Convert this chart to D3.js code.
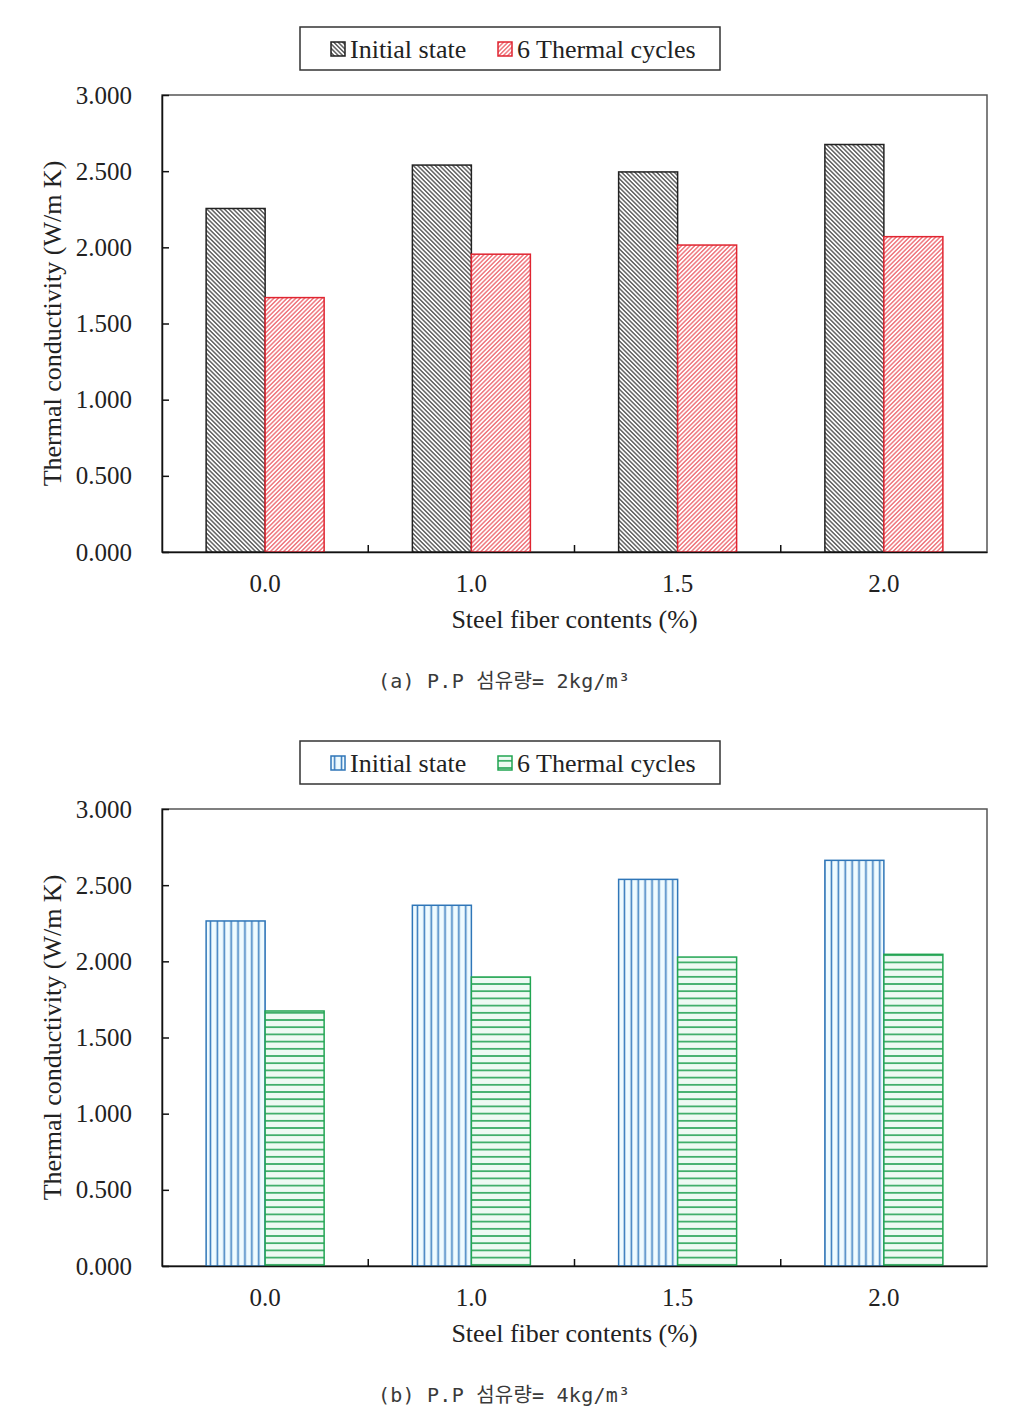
<!DOCTYPE html>
<html>
<head>
<meta charset="utf-8">
<script src="https://cdn.jsdelivr.net/npm/d3@7"></script>
<style>
  html, body { margin: 0; padding: 0; background: #fff; }
  svg { display: block; }
  .serif { font-family: "Liberation Serif", "Times New Roman", serif; fill: #222; }
  .cap { font-family: "DejaVu Sans Mono", "Noto Sans CJK KR", monospace; fill: #3a3a3a; }
</style>
</head>
<body>
<svg id="chart" width="1027" height="1425"></svg>
<script>
// ---- data ----
const categories = ["0.0", "1.0", "1.5", "2.0"];
const seriesNames = ["Initial state", "6 Thermal cycles"];
const initialA = [2.255, 2.540, 2.495, 2.675];
const thermalA = [1.670, 1.955, 2.015, 2.070];
const initialB = [2.265, 2.368, 2.538, 2.663];
const thermalB = [1.674, 1.897, 2.028, 2.046];
const yTicks = [0, 0.5, 1.0, 1.5, 2.0, 2.5, 3.0];
const captionA = "(a) P.P 섬유량= 2kg/m³";
const captionB = "(b) P.P 섬유량= 4kg/m³";
const xTitle = "Steel fiber contents (%)";
const yTitle = "Thermal conductivity (W/m K)";

const svg = d3.select("#chart");
const defs = svg.append("defs");

function linePattern(id, rot, spacing, color, width, bg, orient) {
  const p = defs.append("pattern").attr("id", id)
    .attr("patternUnits", "userSpaceOnUse")
    .attr("width", spacing).attr("height", spacing);
  if (rot) p.attr("patternTransform", `rotate(${rot})`);
  p.append("rect").attr("width", spacing).attr("height", spacing).attr("fill", bg);
  if (orient === "h") {
    p.append("line").attr("x1", 0).attr("x2", spacing).attr("y1", spacing / 2).attr("y2", spacing / 2)
      .attr("stroke", color).attr("stroke-width", width);
  } else {
    p.append("line").attr("y1", 0).attr("y2", spacing).attr("x1", spacing / 2).attr("x2", spacing / 2)
      .attr("stroke", color).attr("stroke-width", width);
  }
}
linePattern("hBlack", -45, 3.1, "#333", 1.15, "#fff", "v");
linePattern("hRed", 45, 3.1, "#e8404a", 1.05, "#fff", "v");
linePattern("hBlue", 0, 6.9, "#3d7fbf", 1.6, "#effbff", "v");
linePattern("hGreen", 0, 7.2, "#2aa65a", 1.6, "#eefaf3", "h");

const charts = [
  { off: 0, vals: [initialA, thermalA], fills: ["url(#hBlack)", "url(#hRed)"], strokes: ["#222", "#e02530"], caption: captionA },
  { off: 714, vals: [initialB, thermalB], fills: ["url(#hBlue)", "url(#hGreen)"], strokes: ["#2f76b8", "#22a552"], caption: captionB }
];

const L = 162, R = 987, T = 95, B = 552;

charts.forEach(c => {
  const g = svg.append("g").attr("transform", `translate(0,${c.off})`);
  const x = d3.scaleBand().domain(categories).range([L, R]).paddingInner(0).paddingOuter(0);
  const bw = x.bandwidth();
  const barW = 59;
  const pOuter = (bw / barW - 2) / 2;
  const xs = d3.scaleBand().domain(seriesNames).range([0, bw]).paddingInner(0).paddingOuter(pOuter);
  const y = d3.scaleLinear().domain([0, 3]).range([B, T]);

  // plot frame
  g.append("rect").attr("x", L).attr("y", T).attr("width", R - L).attr("height", B - T)
    .attr("fill", "none").attr("stroke", "#555").attr("stroke-width", 1.5);

  // bars
  seriesNames.forEach((s, si) => {
    g.append("g").selectAll("rect").data(categories).join("rect")
      .attr("x", d => x(d) + xs(s))
      .attr("y", (d, i) => y(c.vals[si][i]))
      .attr("width", xs.bandwidth())
      .attr("height", (d, i) => y(0) - y(c.vals[si][i]))
      .attr("fill", c.fills[si])
      .attr("stroke", c.strokes[si]).attr("stroke-width", 1.5);
  });

  // y axis
  const ya = g.append("g").attr("transform", `translate(${L},0)`)
    .call(d3.axisLeft(y).tickValues(yTicks).tickFormat(d3.format(".3f")).tickSizeInner(-7).tickSizeOuter(0).tickPadding(30));
  ya.select(".domain").attr("stroke", "#111").attr("stroke-width", 1.5);
  ya.selectAll(".tick line").attr("stroke", "#111").attr("stroke-width", 1.5);
  ya.selectAll(".tick text").attr("class", "serif").style("font-size", "25px").attr("fill", "#222");

  // x axis
  const xa = g.append("g").attr("transform", `translate(0,${B})`)
    .call(d3.axisBottom(x).tickSize(0).tickPadding(22));
  xa.select(".domain").attr("stroke", "#111").attr("stroke-width", 1.5);
  xa.selectAll(".tick text").attr("class", "serif").style("font-size", "25px").attr("fill", "#222");
  // boundary ticks (between categories)
  g.append("g").selectAll("line").data(categories.slice(1)).join("line")
    .attr("x1", d => x(d)).attr("x2", d => x(d))
    .attr("y1", B).attr("y2", B - 7)
    .attr("stroke", "#111").attr("stroke-width", 1.5);

  // titles
  g.append("text").attr("class", "serif").attr("x", (L + R) / 2).attr("y", 628)
    .attr("text-anchor", "middle").style("font-size", "26px").text(xTitle);
  g.append("text").attr("class", "serif")
    .attr("transform", `translate(61,${(T + B) / 2}) rotate(-90)`)
    .attr("text-anchor", "middle").style("font-size", "26px").text(yTitle);

  // legend
  const lg = g.append("g");
  lg.append("rect").attr("x", 300).attr("y", 27).attr("width", 420).attr("height", 43)
    .attr("fill", "#fff").attr("stroke", "#333").attr("stroke-width", 1.5);
  const items = [{ ix: 331, tx: 350 }, { ix: 498, tx: 517 }];
  seriesNames.forEach((s, si) => {
    lg.append("rect").attr("x", items[si].ix).attr("y", 42).attr("width", 14).attr("height", 14)
      .attr("fill", c.fills[si]).attr("stroke", c.strokes[si]).attr("stroke-width", 1.5);
    lg.append("text").attr("class", "serif").attr("x", items[si].tx).attr("y", 57.5)
      .style("font-size", "26px").text(s);
  });

  // caption
  g.append("text").attr("class", "cap").attr("x", 378).attr("y", 688)
    .attr("textLength", 252).attr("lengthAdjust", "spacing")
    .style("font-size", "20px").text(c.caption);
});
</script>
</body>
</html>
